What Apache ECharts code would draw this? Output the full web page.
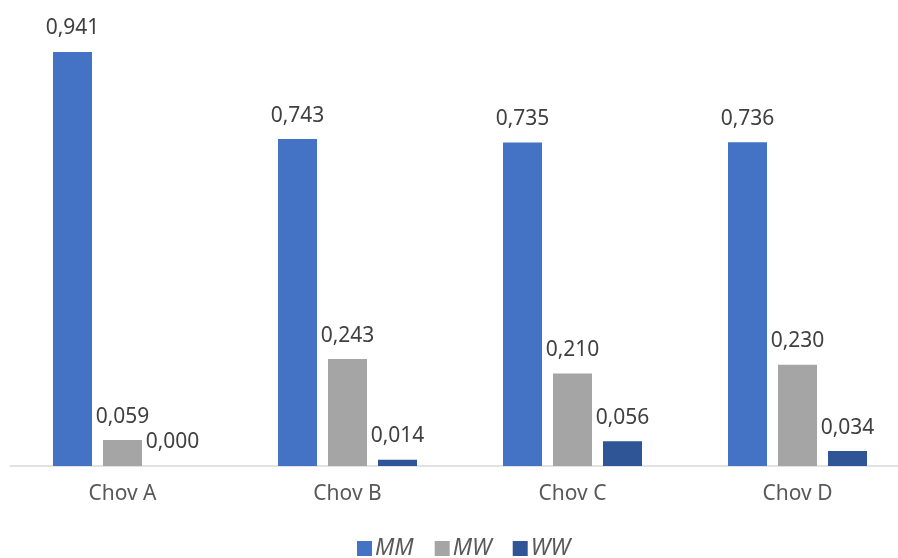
<!DOCTYPE html>
<html><head><meta charset="utf-8">
<script src="https://cdn.jsdelivr.net/npm/echarts@6/dist/echarts.min.js"></script>
<style>html,body{margin:0;padding:0;background:#fff;overflow:hidden}#c{width:910px;height:558px}</style>
</head><body><div id="c"></div>
<script>
var categories = ['Chov A', 'Chov B', 'Chov C', 'Chov D'];
var seriesNames = ['MM', 'MW', 'WW'];
var mmValues = [0.941, 0.743, 0.735, 0.736];
var mwValues = [0.059, 0.243, 0.210, 0.230];
var wwValues = [0.000, 0.014, 0.056, 0.034];
var colors = ['#4472C4', '#A5A5A5', '#2F5597'];
var font = 'Noto Sans';
function fmt(p){ return p.value.toFixed(3).replace('.', ','); }
function mk(name, data, color){
  return {
    name: name, type: 'bar', data: data, barWidth: 39, barGap: '28.2%',
    itemStyle: {color: color},
    label: {show: true, position: 'top', distance: 13, formatter: fmt,
      color: '#404040', fontSize: 21, fontFamily: font},
    emphasis: {disabled: true}
  };
}
var chart = echarts.init(document.getElementById('c'));
chart.setOption({
  animation: false,
  grid: {left: 10, top: 26, right: 0, height: 440, containLabel: false},
  legend: {
    data: seriesNames, top: 532, left: 352, itemWidth: 15, itemHeight: 15,
    itemGap: 21, icon: 'rect',
    textStyle: {color: '#595959', fontSize: 23, fontStyle: 'italic', fontFamily: font, padding: [0,0,0,-2]}
  },
  xAxis: {
    type: 'category', data: categories,
    axisLine: {lineStyle: {color: '#D9D9D9', width: 1.5}},
    axisTick: {show: false},
    axisLabel: {color: '#595959', fontSize: 21, fontFamily: font, margin: 18}
  },
  yAxis: {type: 'value', min: 0, max: 1, show: false, splitLine: {show: false}},
  series: [mk(seriesNames[0], mmValues, colors[0]), mk(seriesNames[1], mwValues, colors[1]), mk(seriesNames[2], wwValues, colors[2])]
});
</script></body></html>
